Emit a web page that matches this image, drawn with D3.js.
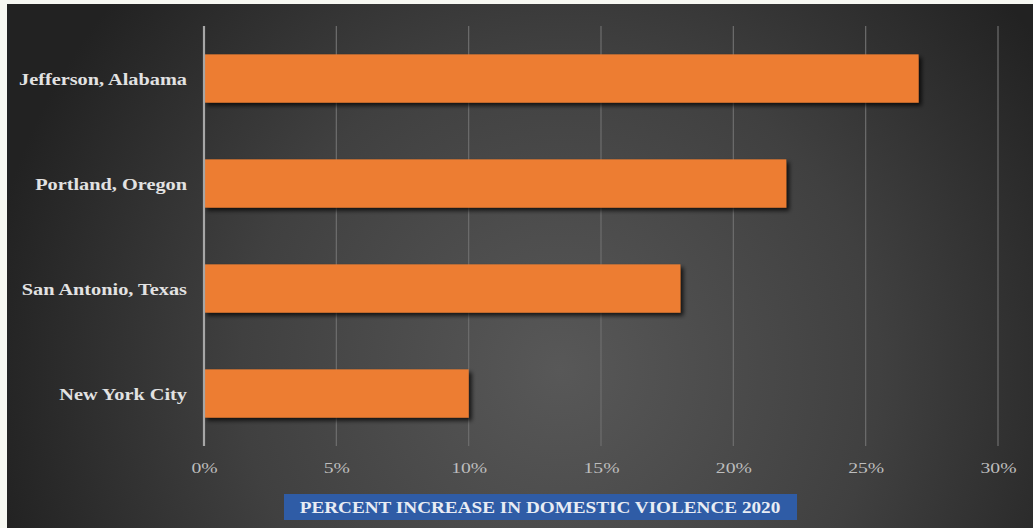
<!DOCTYPE html>
<html>
<head>
<meta charset="utf-8">
<script src="https://cdn.jsdelivr.net/npm/d3@7"></script>
<style>
  html, body { margin: 0; padding: 0; background: #f7f8f2; }
  svg { display: block; }
</style>
</head>
<body>
<div id="chart"></div>
<script>
// data
var categories = ["Jefferson, Alabama", "Portland, Oregon", "San Antonio, Texas", "New York City"];
var values = [0.27, 0.22, 0.18, 0.10];
var tickValues = [0, 0.05, 0.10, 0.15, 0.20, 0.25, 0.30];
var axisTitle = "PERCENT INCREASE IN DOMESTIC VIOLENCE 2020";

var W = 1033, H = 528;
var serif = "'Liberation Serif', 'Times New Roman', serif";
var stretch = "scale(1.27,1)"; // the source image is stretched sideways

var svg = d3.select("#chart").append("svg")
    .attr("width", W)
    .attr("height", H);

var defs = svg.append("defs");
var grad = defs.append("radialGradient")
    .attr("id", "bg")
    .attr("gradientUnits", "userSpaceOnUse")
    .attr("cx", 560).attr("cy", 370).attr("r", 580);
grad.append("stop").attr("offset", "0%").attr("stop-color", "#585858");
grad.append("stop").attr("offset", "55%").attr("stop-color", "#404040");
grad.append("stop").attr("offset", "100%").attr("stop-color", "#222222");

var shadow = defs.append("filter").attr("id", "shadow")
    .attr("x", "-5%").attr("y", "-20%").attr("width", "115%").attr("height", "150%");
shadow.append("feDropShadow")
    .attr("dx", 3).attr("dy", 3).attr("stdDeviation", 2)
    .attr("flood-color", "#000").attr("flood-opacity", 0.75);

// panel
svg.append("rect")
    .attr("x", 7).attr("y", 4)
    .attr("width", W - 7).attr("height", H - 4)
    .attr("fill", "url(#bg)");

var x = d3.scaleLinear().domain([0, 0.30]).range([204, 998]);
var y = d3.scaleBand().domain(categories).range([26, 446])
    .paddingInner(0.54).paddingOuter(0.27);

// gridlines
svg.append("g")
    .selectAll("line")
    .data(tickValues.slice(1))
    .enter().append("line")
    .attr("x1", function (d) { return x(d); })
    .attr("x2", function (d) { return x(d); })
    .attr("y1", 26).attr("y2", 446)
    .attr("stroke", "#6e6e6e")
    .attr("stroke-width", 1.2);

// bars
svg.append("g")
    .selectAll("rect")
    .data(categories)
    .enter().append("rect")
    .attr("x", x(0))
    .attr("y", function (d) { return y(d); })
    .attr("width", function (d, i) { return x(values[i]) - x(0); })
    .attr("height", y.bandwidth())
    .attr("fill", "#ed7d31")
    .attr("filter", "url(#shadow)");

// zero axis line
svg.append("line")
    .attr("x1", x(0)).attr("x2", x(0))
    .attr("y1", 26).attr("y2", 446)
    .attr("stroke", "#a6a6a6")
    .attr("stroke-width", 2.2);

// x tick labels
var xAxis = svg.append("g")
    .attr("transform", "translate(0,459)")
    .call(d3.axisBottom(x).tickValues(tickValues).tickFormat(d3.format(".0%")).tickSize(0));
xAxis.select(".domain").remove();
xAxis.selectAll("text")
    .attr("fill", "#bdbdbd")
    .attr("font-family", serif)
    .attr("font-size", 15.5)
    .attr("transform", stretch);

// category labels
var yAxis = svg.append("g")
    .attr("transform", "translate(187,1)")
    .call(d3.axisLeft(y).tickSize(0).tickPadding(0));
yAxis.select(".domain").remove();
yAxis.selectAll("text")
    .attr("fill", "#e2e2e2")
    .attr("font-family", serif)
    .attr("font-weight", "bold")
    .attr("font-size", 16)
    .attr("transform", stretch);

// axis title box
svg.append("rect")
    .attr("x", 284).attr("y", 494)
    .attr("width", 513).attr("height", 26)
    .attr("fill", "#2f5ca6");
svg.append("text")
    .attr("transform", "translate(540,513) scale(1.2,1)")
    .attr("text-anchor", "middle")
    .attr("fill", "#e8ecf4")
    .attr("font-family", serif)
    .attr("font-weight", "bold")
    .attr("font-size", 16)
    .text(axisTitle);
</script>
</body>
</html>
